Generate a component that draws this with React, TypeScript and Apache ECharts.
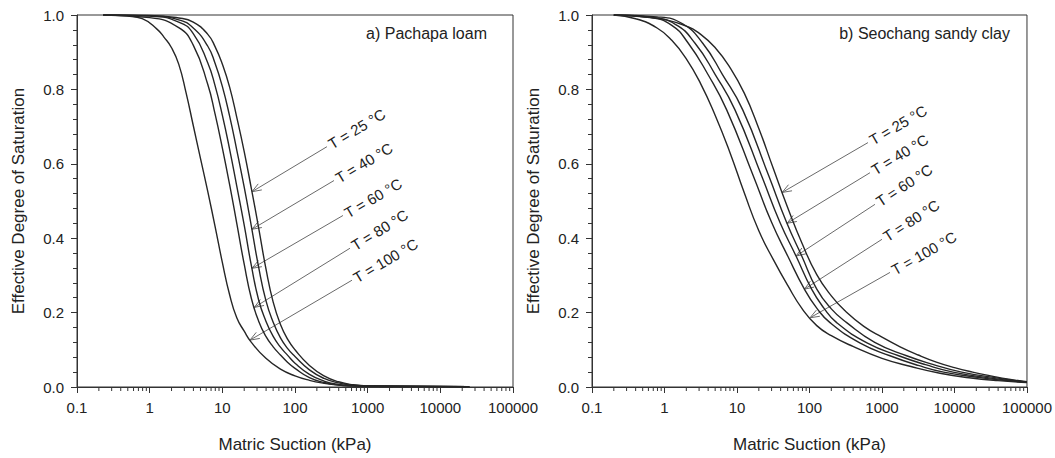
import React, { useEffect, useRef } from "react";
import * as echarts from "echarts";

// ---------- data ----------
const temperatures = ["25", "40", "60", "80", "100"];
const xTickLabels = ["0.1", "1", "10", "100", "1000", "10000", "100000"];
const xMajorTicks = [0.1, 1, 10, 100, 1000, 10000, 100000];

// a) Pachapa loam  [suction kPa, effective saturation]
const pachapa25 = [[0.23,1.0],[1,0.999],[2.51,0.992],[3.98,0.981],[6.31,0.948],[7.94,0.915],[10,0.868],[12.6,0.806],[15.8,0.725],[20,0.633],[25.1,0.533],[31.6,0.428],[39.8,0.318],[50.1,0.228],[63.1,0.168],[79.4,0.128],[100,0.1],[158,0.058],[251,0.03],[398,0.014],[631,0.006],[1000,0.003],[25000,0.001]];
const pachapa40 = [[0.23,1.0],[1,0.998],[2.51,0.987],[3.98,0.965],[6.31,0.916],[7.94,0.87],[10,0.808],[12.6,0.728],[15.8,0.637],[20,0.537],[25.1,0.432],[31.6,0.322],[39.8,0.232],[50.1,0.174],[63.1,0.132],[79.4,0.103],[100,0.082],[158,0.046],[251,0.023],[398,0.011],[631,0.005],[1000,0.0025],[25000,0.001]];
const pachapa60 = [[0.23,1.0],[1,0.997],[2.51,0.981],[3.98,0.95],[6.31,0.871],[7.94,0.81],[10,0.731],[12.6,0.639],[15.8,0.54],[20,0.435],[25.1,0.326],[31.6,0.234],[39.8,0.177],[50.1,0.136],[63.1,0.107],[79.4,0.085],[100,0.064],[158,0.034],[251,0.016],[398,0.007],[631,0.0035],[1000,0.002],[25000,0.001]];
const pachapa80 = [[0.23,1.0],[1,0.993],[2.51,0.966],[3.98,0.919],[6.31,0.813],[7.94,0.734],[10,0.643],[12.6,0.544],[15.8,0.44],[20,0.33],[25.1,0.238],[31.6,0.177],[39.8,0.136],[50.1,0.108],[63.1,0.086],[79.4,0.066],[100,0.05],[158,0.025],[251,0.012],[398,0.0055],[631,0.003],[1000,0.002],[25000,0.001]];
const pachapa100 = [[0.23,1.0],[0.5,0.997],[0.79,0.99],[1.26,0.962],[1.58,0.94],[2,0.912],[2.51,0.868],[3.16,0.792],[3.98,0.703],[5.01,0.614],[6.31,0.525],[7.94,0.432],[10,0.335],[12.6,0.248],[15.8,0.186],[20,0.15],[25.1,0.12],[39.8,0.077],[63.1,0.048],[100,0.03],[158,0.018],[251,0.01],[398,0.005],[631,0.003],[1000,0.002],[25000,0.001]];
const pachapaArrowTips = [[25.6,0.525],[25.6,0.424],[25.6,0.319],[27.5,0.214],[24,0.126]];
const pachapaLabelAnchors = [[275,0.646],[344,0.555],[457,0.461],[571,0.373],[608,0.287]];

// b) Seochang sandy clay
const seochang25 = [[0.2,1.0],[0.5,0.996],[1,0.988],[2,0.97],[3.16,0.948],[5.01,0.912],[7.94,0.86],[12.6,0.79],[20,0.695],[31.6,0.588],[50.1,0.482],[79.4,0.385],[126,0.302],[200,0.245],[316,0.203],[562,0.163],[1000,0.134],[1778,0.108],[3162,0.086],[5623,0.067],[10000,0.052],[17783,0.04],[31623,0.03],[56234,0.021],[100000,0.014]];
const seochang40 = [[0.2,1.0],[0.79,0.995],[1.78,0.976],[3.37,0.924],[6.31,0.84],[12,0.745],[27.5,0.567],[48.4,0.442],[78.2,0.352],[126,0.263],[200,0.21],[326,0.173],[794,0.12],[2188,0.084],[5012,0.061],[12589,0.04],[39811,0.024],[100000,0.013]];
const seochang60 = [[0.2,1.0],[0.63,0.994],[1.41,0.975],[2.64,0.924],[5.01,0.84],[9.38,0.745],[21.9,0.567],[39.2,0.442],[65.2,0.352],[107,0.263],[158,0.212],[237,0.173],[631,0.118],[1698,0.084],[3981,0.06],[9550,0.04],[31623,0.024],[100000,0.013]];
const seochang80 = [[0.2,1.0],[0.63,0.993],[1.26,0.972],[2.13,0.924],[3.98,0.84],[7.21,0.745],[16.8,0.567],[30.1,0.442],[50.1,0.352],[85.1,0.263],[126,0.212],[192,0.173],[501,0.118],[1288,0.084],[3162,0.058],[7079,0.04],[25119,0.024],[100000,0.013]];
const seochang100 = [[0.2,1.0],[0.4,0.99],[0.79,0.965],[1.26,0.932],[2,0.882],[3.16,0.815],[5.01,0.73],[7.94,0.632],[12.6,0.522],[20,0.42],[31.6,0.343],[50.1,0.273],[79.4,0.21],[126,0.165],[200,0.138],[398,0.109],[1000,0.077],[2512,0.055],[6310,0.037],[15849,0.025],[39811,0.017],[100000,0.012]];
const seochangArrowTips = [[42,0.523],[49,0.44],[65.2,0.352],[85.1,0.263],[101.6,0.186]];
const seochangLabelAnchors = [[641,0.657],[683,0.576],[800,0.491],[1000,0.397],[1290,0.308]];

// ---------- styling ----------
const FONT = "'Liberation Sans', Arial, Helvetica, sans-serif";
const AXIS_COLOR = "#333";
const TEXT_COLOR = "#222";
const CURVE_COLOR = "#262626";
const ARROW_COLOR = "#6a6a6a";

const xMinorTicks: number[] = [];
for (let i = 0; i < xMajorTicks.length - 1; i++) {
  for (let k = 2; k <= 9; k++) xMinorTicks.push(xMajorTicks[i] * k);
}

export default function App() {
  const ref = useRef<HTMLDivElement>(null);

  useEffect(() => {
    const el = ref.current!;
    const chart = echarts.init(el, null, { renderer: "svg" });

    const panels = [
      {
        curves: [pachapa25, pachapa40, pachapa60, pachapa80, pachapa100],
        tips: pachapaArrowTips,
        anchors: pachapaLabelAnchors,
        title: "a) Pachapa loam",
        titleX: 487,
      },
      {
        curves: [seochang25, seochang40, seochang60, seochang80, seochang100],
        tips: seochangArrowTips,
        anchors: seochangLabelAnchors,
        title: "b) Seochang sandy clay",
        titleX: 1010,
      },
    ];

    const grids = [
      { left: 77, top: 15, width: 436, height: 373 },
      { left: 592, top: 15, width: 435, height: 373 },
    ].map((g) => ({ ...g, show: true, borderColor: AXIS_COLOR, borderWidth: 1, backgroundColor: "transparent" }));

    const xAxes: any[] = [];
    const yAxes: any[] = [];
    [0, 1].forEach((g) => {
      xAxes.push({
        type: "log",
        logBase: 10,
        gridIndex: g,
        min: 0.1,
        max: 100000,
        position: "bottom",
        axisLine: { show: true, lineStyle: { color: AXIS_COLOR, width: 1 } },
        axisTick: { show: true, inside: false, length: 6, lineStyle: { color: AXIS_COLOR, width: 1 } },
        axisLabel: {
          margin: 13,
          fontSize: 15,
          color: TEXT_COLOR,
          fontFamily: FONT,
          formatter: (v: number) => xTickLabels[Math.round(Math.log10(v)) + 1] ?? "",
        },
        splitLine: { show: false },
        name: "Matric Suction (kPa)",
        nameLocation: "middle",
        nameGap: 49,
        nameTextStyle: { fontSize: 17, color: TEXT_COLOR, fontFamily: FONT },
      });
      yAxes.push({
        type: "value",
        gridIndex: g,
        min: 0,
        max: 1,
        interval: 0.2,
        axisLine: { show: true, lineStyle: { color: AXIS_COLOR, width: 1 } },
        axisTick: { show: true, inside: false, length: 6, lineStyle: { color: AXIS_COLOR, width: 1 } },
        minorTick: { show: true, splitNumber: 5, length: 4, lineStyle: { color: AXIS_COLOR, width: 1 } },
        axisLabel: {
          margin: 13,
          fontSize: 15,
          color: TEXT_COLOR,
          fontFamily: FONT,
          formatter: (v: number) => v.toFixed(1),
        },
        splitLine: { show: false },
        minorSplitLine: { show: false },
        name: "Effective Degree of Saturation",
        nameLocation: "middle",
        nameGap: 50,
        nameTextStyle: { fontSize: 17, color: TEXT_COLOR, fontFamily: FONT },
      });
    });

    const series: any[] = [];
    panels.forEach((p, g) => {
      p.curves.forEach((data, i) => {
        series.push({
          type: "line",
          name: `T = ${temperatures[i]} °C (${g})`,
          xAxisIndex: g,
          yAxisIndex: g,
          data,
          symbol: "none",
          showSymbol: false,
          smooth: 0.5,
          clip: true,
          lineStyle: { color: CURVE_COLOR, width: 1.4 },
          emphasis: { disabled: true },
        });
      });
    });

    chart.setOption({
      animation: false,
      backgroundColor: "#fff",
      grid: grids,
      xAxis: xAxes,
      yAxis: yAxes,
      series,
    });

    const graphic: any[] = [];
    panels.forEach((p, g) => {
      // minor ticks of the log axis (2..9 per decade), placed by the axis scale
      const y0 = chart.convertToPixel({ yAxisIndex: g }, 0) as number;
      xMinorTicks.forEach((v) => {
        const px = chart.convertToPixel({ xAxisIndex: g }, v) as number;
        graphic.push({
          type: "line",
          shape: { x1: px, y1: y0, x2: px, y2: y0 + 4 },
          style: { stroke: AXIS_COLOR, lineWidth: 1 },
          silent: true,
        });
      });

      graphic.push({
        type: "text",
        x: p.titleX,
        y: 33,
        style: {
          text: p.title,
          align: "right",
          verticalAlign: "middle",
          fontSize: 16,
          fontFamily: FONT,
          fill: TEXT_COLOR,
        },
      });

      const seriesIndex = g * 5;
      temperatures.forEach((t, i) => {
        const tip = chart.convertToPixel({ seriesIndex }, p.tips[i]) as number[];
        const anc = chart.convertToPixel({ seriesIndex }, p.anchors[i]) as number[];
        const dx = anc[0] - tip[0];
        const dy = anc[1] - tip[1];
        const len = Math.hypot(dx, dy);
        const ux = dx / len;
        const uy = dy / len;
        const ang = 0.36;
        const L = 10;
        const arm = (s: number) => {
          const c = Math.cos(s * ang);
          const sn = Math.sin(s * ang);
          return [tip[0] + L * (ux * c - uy * sn), tip[1] + L * (ux * sn + uy * c)];
        };
        graphic.push({
          type: "line",
          shape: { x1: tip[0], y1: tip[1], x2: anc[0], y2: anc[1] },
          style: { stroke: ARROW_COLOR, lineWidth: 1 },
        });
        graphic.push({
          type: "polyline",
          shape: { points: [arm(1), tip, arm(-1)] },
          style: { stroke: ARROW_COLOR, lineWidth: 1, fill: "none" },
        });
        graphic.push({
          type: "text",
          x: anc[0],
          y: anc[1],
          rotation: Math.atan2(-dy, dx),
          style: {
            text: `T = ${t} °C`,
            x: 3,
            y: 0,
            align: "left",
            verticalAlign: "middle",
            fontSize: 15,
            fontFamily: FONT,
            fill: TEXT_COLOR,
          },
        });
      });
    });
    chart.setOption({ graphic });

    return () => chart.dispose();
  }, []);

  return (
    <div
      ref={ref}
      style={{ position: "fixed", left: 0, top: 0, width: 1055, height: 458, background: "#fff" }}
    />
  );
}
